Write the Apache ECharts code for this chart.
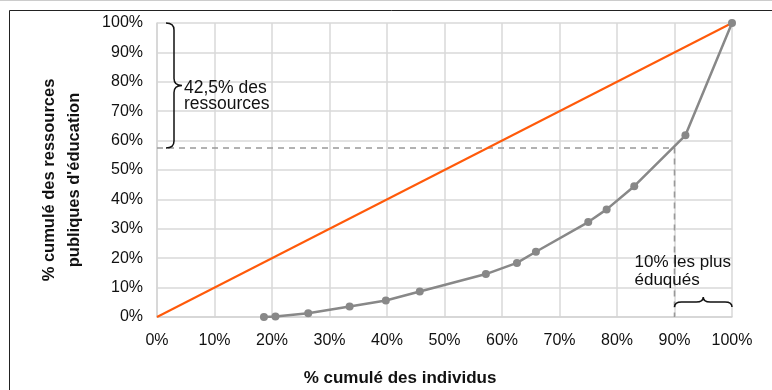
<!DOCTYPE html>
<html>
<head>
<meta charset="utf-8">
<script src="https://cdn.jsdelivr.net/npm/echarts@6/dist/echarts.min.js"></script>
<style>
  html, body { margin: 0; padding: 0; background: #fff; }
  #main { width: 772px; height: 390px; }
</style>
</head>
<body>
<div id="main"></div>
<script>
// tick labels
const ticks = [0, 10, 20, 30, 40, 50, 60, 70, 80, 90, 100];
// concentration curve: % cumulé des individus / % cumulé des ressources
const individus = [18.6, 20.6, 26.3, 33.5, 39.8, 45.7, 57.2, 62.6, 65.9, 75.0, 78.2, 83.0, 91.9, 100];
const ressources = [0.0, 0.2, 1.3, 3.6, 5.6, 8.7, 14.6, 18.4, 22.2, 32.3, 36.6, 44.5, 61.8, 100];
// line of equality
const egalite = [[0, 0], [100, 100]];
// 10% les plus éduqués -> 42,5% des ressources
const seuilX = 90;
const seuilY = 57.5;

const FONT = '"Liberation Sans", Arial, Helvetica, sans-serif';
const courbe = individus.map((x, i) => [x, ressources[i]]);
const guides = [[0, seuilY], [seuilX, seuilY], [seuilX, 0]];

// curly brace shape: from (x1,y1) to (x2,y2), tip pushed out by d on the left-hand normal
echarts.graphic.registerShape("brace", echarts.graphic.extendShape({
  shape: { x1: 0, y1: 0, x2: 0, y2: 0, d: 10 },
  buildPath: function (ctx, s) {
    const dx = s.x2 - s.x1, dy = s.y2 - s.y1;
    const len = Math.sqrt(dx * dx + dy * dy);
    const ux = dx / len, uy = dy / len;
    const nx = -uy * s.d, ny = ux * s.d;      // normal of length d
    const r = Math.min(7, len / 4);
    const P = (t, k) => [s.x1 + ux * t + nx * k, s.y1 + uy * t + ny * k];
    const m = len / 2;
    let p = P(0, 0); ctx.moveTo(p[0], p[1]);
    let c = P(0, 0.5), e = P(r, 0.5); ctx.quadraticCurveTo(c[0], c[1], e[0], e[1]);
    p = P(m - r, 0.5); ctx.lineTo(p[0], p[1]);
    c = P(m, 0.5); e = P(m, 1); ctx.quadraticCurveTo(c[0], c[1], e[0], e[1]);
    c = P(m, 0.5); e = P(m + r, 0.5); ctx.quadraticCurveTo(c[0], c[1], e[0], e[1]);
    p = P(len - r, 0.5); ctx.lineTo(p[0], p[1]);
    c = P(len, 0.5); e = P(len, 0); ctx.quadraticCurveTo(c[0], c[1], e[0], e[1]);
  }
}));

const axisCommon = {
  type: "value",
  min: ticks[0],
  max: ticks[ticks.length - 1],
  interval: 10,
  axisLine: { show: true, lineStyle: { color: "#d4d4d4", width: 1.5 } },
  axisTick: { show: false },
  splitLine: { show: true, lineStyle: { color: "#d9d9d9", width: 1.5 } },
  axisLabel: {
    formatter: "{value}%",
    color: "#111",
    fontSize: 16,
    fontFamily: FONT
  }
};

var chart = echarts.init(document.getElementById("main"));
chart.setOption({
  animation: false,
  grid: { left: 157, right: 40, top: 23, bottom: 73, containLabel: false },
  xAxis: Object.assign({}, axisCommon, {
    axisLabel: Object.assign({}, axisCommon.axisLabel, { margin: 16 })
  }),
  yAxis: Object.assign({}, axisCommon, {
    axisLabel: Object.assign({}, axisCommon.axisLabel, { margin: 14 })
  }),
  series: [
    {
      name: "guides",
      type: "line",
      data: guides,
      symbol: "none",
      lineStyle: { color: "#999", width: 1.6, type: [6, 5] },
      z: 1
    },
    {
      name: "égalité",
      type: "line",
      data: egalite,
      symbol: "none",
      lineStyle: { color: "#ff5a0a", width: 2 },
      z: 2
    },
    {
      name: "courbe",
      type: "line",
      data: courbe,
      symbol: "circle",
      symbolSize: 8,
      itemStyle: { color: "#888" },
      lineStyle: { color: "#888", width: 2.5 },
      z: 3
    }
  ]
});

function px(x, y) {
  return chart.convertToPixel({ gridIndex: 0 }, [x, y]);
}

const pTop = px(0, 100), pSeuil = px(0, seuilY), p90 = px(seuilX, 0), p100 = px(100, 0);
const bx = pTop[0] + 9;
const by = p90[1] - 10;

chart.setOption({
  graphic: [
    {
      type: "rect",
      shape: { x: 9.5, y: 10.5, width: 820, height: 420 },
      style: { fill: null, stroke: "#222", lineWidth: 1 },
      silent: true
    },
    {
      type: "line",
      shape: { x1: 0, y1: 0.5, x2: 772, y2: 0.5 },
      style: { stroke: "#ccc", lineWidth: 1 }
    },
    {
      type: "brace",
      shape: { x1: bx, y1: pSeuil[1], x2: bx, y2: pTop[1], d: 16 },
      style: { fill: null, stroke: "#111", lineWidth: 1.5 },
      z: 10
    },
    {
      type: "text",
      left: bx + 18,
      top: (pTop[1] + pSeuil[1]) / 2 - 6,
      style: {
        text: "42,5% des\nressources",
        font: "17.5px " + FONT,
        fill: "#111",
        lineHeight: 16
      },
      z: 10
    },
    {
      type: "brace",
      shape: { x1: p90[0], y1: by, x2: p100[0], y2: by, d: -10 },
      style: { fill: null, stroke: "#111", lineWidth: 1.5 },
      z: 10
    },
    {
      type: "text",
      left: p90[0] - 40,
      top: 253,
      style: {
        text: "10% les plus\néduqués",
        font: "17px " + FONT,
        fill: "#111",
        lineHeight: 18
      },
      z: 10
    },
    {
      type: "text",
      x: 400,
      y: 378,
      style: {
        text: "% cumulé des individus",
        font: "bold 17px " + FONT,
        fill: "#111",
        align: "center",
        verticalAlign: "middle"
      }
    },
    {
      type: "text",
      x: 62,
      y: 180,
      rotation: Math.PI / 2,
      style: {
        text: "% cumulé des ressources\npubliques d'éducation",
        font: "bold 16.5px " + FONT,
        fill: "#111",
        align: "center",
        verticalAlign: "middle",
        lineHeight: 25
      }
    }
  ]
});
</script>
</body>
</html>
